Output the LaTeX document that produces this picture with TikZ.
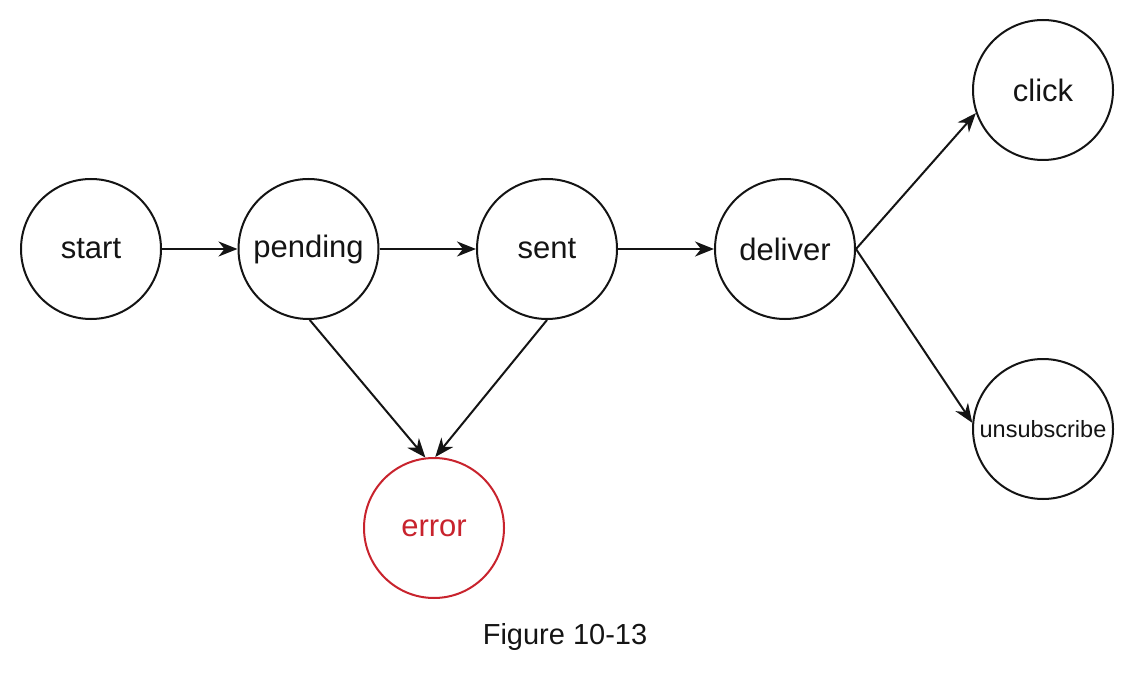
\documentclass[tikz,border=0pt]{standalone}
\usepackage{fontspec}
\setmainfont{Liberation Sans}
\usetikzlibrary{arrows.meta}
\definecolor{errred}{RGB}{200,35,45}
\definecolor{ink}{RGB}{20,20,20}
\tikzset{
  state/.style={circle, draw=ink, line width=2pt, minimum size=140pt, inner sep=0pt, text=ink, font=\fontsize{31}{36}\selectfont},
  errstate/.style={state, draw=errred, text=errred},
  conn/.style={draw=ink, line width=2pt, -{Stealth[length=19pt,width=15pt,inset=6pt]}}
}
\begin{document}
\begin{tikzpicture}[x=1pt,y=1pt]
\useasboundingbox (0,0) rectangle (1132,673);
\node[state] (start) at (91,424) {start};
\node[state] (pending) at (308.5,424) {pending};
\node[state] (sent) at (547,424) {sent};
\node[state] (deliver) at (785,424) {deliver};
\node[state] (click) at (1043,583) {click};
\node[state, font=\fontsize{23.5}{28}\selectfont] (unsub) at (1043,244) {unsubscribe};
\node[errstate] (error) at (434,145) {error};
\node[text=ink, font=\fontsize{29}{34}\selectfont] (cap) at (565,36) {Figure 10-13};
\draw[conn] (start.east) -- (pending.west);
\draw[conn] (pending.east) -- (sent.west);
\draw[conn] (sent.east) -- (deliver.west);
\draw[conn] (deliver.east) -- (click.199);
\draw[conn] (deliver.east) -- (unsub.175);
\draw[conn] (pending.-89) -- (error.97);
\draw[conn] (sent.south) -- (error.89);
\end{tikzpicture}
\end{document}
